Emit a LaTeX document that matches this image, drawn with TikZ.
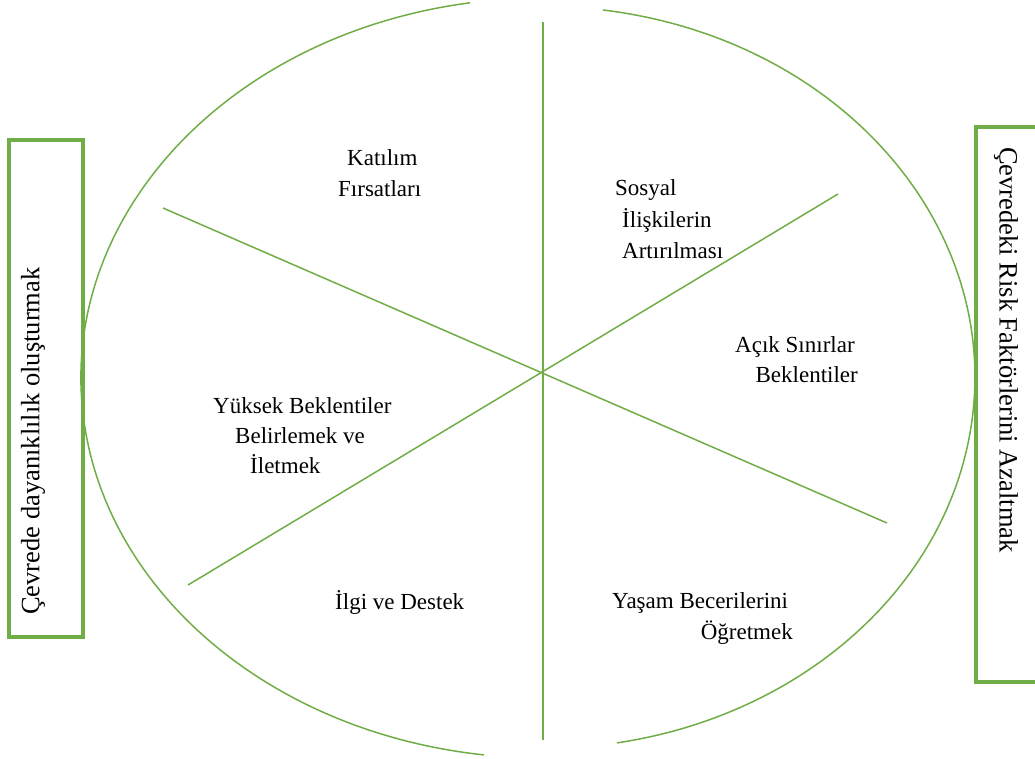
\documentclass[tikz,border=0pt]{standalone}
\usepackage{fontspec}
\setmainfont{Liberation Serif}
\definecolor{leafgreen}{HTML}{70AD47}
\begin{document}
\begin{tikzpicture}[x=1pt,y=-1pt,
  guide/.style={draw=leafgreen, line width=1.5pt},
  sidebox/.style={draw=leafgreen, line width=3.5pt},
  lbl/.style={inner sep=0pt, anchor=mid west, font=\fontsize{23}{28}\selectfont},
  sidelbl/.style={inner sep=0pt, anchor=mid west, font=\fontsize{26.5}{32}\selectfont}]
\useasboundingbox (0,0) rectangle (1035,758);

% outer rim: two elliptic arcs
\coordinate (ltop) at (469.9,2.8);
\coordinate (rtop) at (603,10);
\draw[guide] (ltop) arc[start angle=260.9, end angle=97.34, x radius=462, y radius=380];
\draw[guide] (rtop) arc[start angle=-82.0, end angle=80.14, x radius=432, y radius=371];

% spokes through the hub
\coordinate (hub) at (543,373);
\coordinate (vtop) at (543,22);
\coordinate (vbot) at (543,740);
\coordinate (d1a) at (163,208);
\coordinate (d1b) at (887,523);
\coordinate (d2a) at (838,194);
\coordinate (d2b) at (188,585);
\draw[guide, line width=1.8pt] (vtop) -- (vbot);
\draw[guide] (d1a) -- (d1b);
\draw[guide] (d2a) -- (d2b);

% side panels
\draw[sidebox] (9,140) rectangle (83,637);
\draw[sidebox] (1040,127) -- (976,127) -- (976,682) -- (1040,682);
\node[sidelbl, rotate=90] (leftlbl) at (37,615) {Çevrede dayanıklılık oluşturmak};
\node[sidelbl, rotate=-90] (rightlbl) at (1002,147) {Çevredeki Risk Faktörlerini Azaltmak};

% sector labels
\node[lbl] (k1) at (347,163) {Katılım};
\node[lbl] (k2) at (338,194) {Fırsatları};
\node[lbl] (s1) at (615,193) {Sosyal};
\node[lbl] (s2) at (622,225) {İlişkilerin};
\node[lbl] (s3) at (622,256) {Artırılması};
\node[lbl] (a1) at (735,350) {Açık Sınırlar};
\node[lbl, anchor=mid east] (a2) at (858,380) {Beklentiler};
\node[lbl] (y1) at (213,411) {Yüksek Beklentiler};
\node[lbl] (y2) at (235,441) {Belirlemek ve};
\node[lbl] (y3) at (250,471) {İletmek};
\node[lbl] (i1) at (335,607) {İlgi ve Destek};
\node[lbl] (b1) at (612,606) {Yaşam Becerilerini};
\node[lbl, anchor=mid east] (b2) at (793,637) {Öğretmek};
\end{tikzpicture}
\end{document}
